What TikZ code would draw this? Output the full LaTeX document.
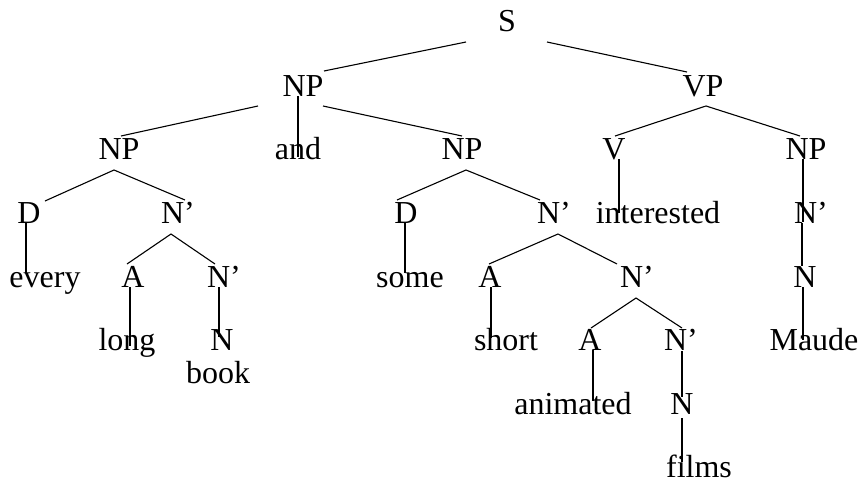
\documentclass[tikz,border=0pt]{standalone}
\usepackage{fontspec}
\setmainfont{Liberation Serif}
\begin{document}
\begin{tikzpicture}[x=1pt,y=-1pt,
  lbl/.style={anchor=base,inner sep=0pt,font=\fontsize{32}{36}\selectfont},
  edge/.style={line width=1.1pt,black}]
\useasboundingbox (0,0) rectangle (861,487);
% labels (center x, baseline y)
\node[lbl] (S) at (507,32) {S};
\node[lbl] (NP) at (303,96) {NP};
\node[lbl] (VP) at (703,96) {VP};
\node[lbl] (NPa) at (119,159) {NP};
\node[lbl] (and) at (298,159) {and};
\node[lbl] (NPb) at (462,159) {NP};
\node[lbl] (V) at (614,159) {V};
\node[lbl] (NPc) at (806,159) {NP};
\node[lbl] (Da) at (29,223) {D};
\node[lbl] (Npa) at (178,223) {N’};
\node[lbl] (Db) at (406,223) {D};
\node[lbl] (Npb) at (554,223) {N’};
\node[lbl] (interested) at (658,223) {interested};
\node[lbl] (Npc) at (811,223) {N’};
\node[lbl] (every) at (45,287) {every};
\node[lbl] (Aa) at (133,287) {A};
\node[lbl] (Npd) at (224,287) {N’};
\node[lbl] (some) at (410,287) {some};
\node[lbl] (Ab) at (490,287) {A};
\node[lbl] (Npe) at (637,287) {N’};
\node[lbl] (Nc) at (805,287) {N};
\node[lbl] (long) at (127,350) {long};
\node[lbl] (Na) at (222,350) {N};
\node[lbl] (book) at (218,383) {book};
\node[lbl] (short) at (506,350) {short};
\node[lbl] (Ac) at (590,350) {A};
\node[lbl] (Npf) at (681,350) {N’};
\node[lbl] (Maude) at (814,350) {Maude};
\node[lbl] (animated) at (573,414) {animated};
\node[lbl] (Nb) at (682,414) {N};
\node[lbl] (films) at (699,477) {films};
% connector end points
\coordinate (S-l) at (466,42);   \coordinate (NP-t) at (324,71);
\coordinate (S-r) at (547,42);   \coordinate (VP-t) at (687,72);
\coordinate (NP-bl) at (258,106); \coordinate (NPa-t) at (121,136);
\coordinate (NP-bc) at (298,96);  \coordinate (and-t) at (298,157);
\coordinate (NP-br) at (323,106); \coordinate (NPb-t) at (462,136);
\coordinate (VP-b) at (706,106);  \coordinate (V-t) at (615,136); \coordinate (NPc-t) at (800,136);
\coordinate (V-b) at (619,159);   \coordinate (int-t) at (619,213);
\coordinate (NPc-b) at (803,159); \coordinate (Npc-t) at (803,222);
\coordinate (NPa-b) at (114,170); \coordinate (Da-t) at (45,201); \coordinate (Npa-t) at (185,200);
\coordinate (Da-b) at (26,223);   \coordinate (every-t) at (26,273);
\coordinate (Npa-b) at (171,234); \coordinate (Aa-t) at (127,264); \coordinate (Npd-t) at (215,264);
\coordinate (Aa-b) at (130,287);  \coordinate (long-t) at (130,346);
\coordinate (Npd-b) at (219,287); \coordinate (Na-t) at (219,337);
\coordinate (NPb-b) at (466,170); \coordinate (Db-t) at (397,200); \coordinate (Npb-t) at (540,200);
\coordinate (Db-b) at (405,223);  \coordinate (some-t) at (405,273);
\coordinate (Npb-b) at (558,234); \coordinate (Ab-t) at (489,264); \coordinate (Npe-t) at (617,264);
\coordinate (Ab-b) at (491,287);  \coordinate (short-t) at (491,338);
\coordinate (Npe-b) at (636,298); \coordinate (Ac-t) at (591,328); \coordinate (Npf-t) at (682,328);
\coordinate (Ac-b) at (593,350);  \coordinate (anim-t) at (593,401);
\coordinate (Npf-b) at (682,351); \coordinate (Nb-t) at (682,397);
\coordinate (Nb-b) at (682,418);  \coordinate (films-t) at (682,462);
\coordinate (Npc-b) at (802,223); \coordinate (Nc-t) at (802,266);
\coordinate (Nc-b) at (803,287);  \coordinate (Maude-t) at (803,340);
% connectors
\draw[edge] (S-l) -- (NP-t);
\draw[edge] (S-r) -- (VP-t);
\draw[edge] (NP-bl) -- (NPa-t);
\draw[edge] (NP-bc) -- (and-t);
\draw[edge] (NP-br) -- (NPb-t);
\draw[edge] (V-t) -- (VP-b) -- (NPc-t);
\draw[edge] (V-b) -- (int-t);
\draw[edge] (NPc-b) -- (Npc-t);
\draw[edge] (Da-t) -- (NPa-b) -- (Npa-t);
\draw[edge] (Da-b) -- (every-t);
\draw[edge] (Aa-t) -- (Npa-b) -- (Npd-t);
\draw[edge] (Aa-b) -- (long-t);
\draw[edge] (Npd-b) -- (Na-t);
\draw[edge] (Db-t) -- (NPb-b) -- (Npb-t);
\draw[edge] (Db-b) -- (some-t);
\draw[edge] (Ab-t) -- (Npb-b) -- (Npe-t);
\draw[edge] (Ab-b) -- (short-t);
\draw[edge] (Ac-t) -- (Npe-b) -- (Npf-t);
\draw[edge] (Ac-b) -- (anim-t);
\draw[edge] (Npf-b) -- (Nb-t);
\draw[edge] (Nb-b) -- (films-t);
\draw[edge] (Npc-b) -- (Nc-t);
\draw[edge] (Nc-b) -- (Maude-t);
\end{tikzpicture}
\end{document}
